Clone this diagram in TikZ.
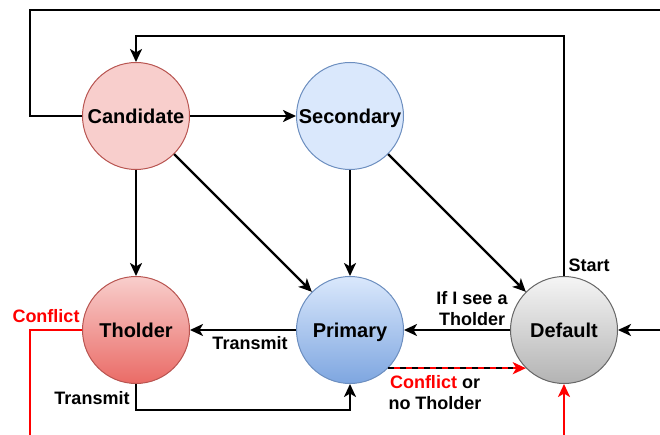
\documentclass[tikz,border=0pt]{standalone}
\usepackage{fontspec}
\setmainfont{Liberation Sans}
\usetikzlibrary{arrows.meta}
\definecolor{redfill}{HTML}{F8CECC}
\definecolor{redfillB}{HTML}{EA6B66}
\definecolor{redline}{HTML}{B85450}
\definecolor{bluefill}{HTML}{DAE8FC}
\definecolor{bluefillB}{HTML}{7EA6E0}
\definecolor{blueline}{HTML}{6C8EBF}
\definecolor{grayfill}{HTML}{F5F5F5}
\definecolor{grayfillB}{HTML}{B3B3B3}
\definecolor{grayline}{HTML}{666666}
\definecolor{conf}{HTML}{FF0000}
\tikzset{
  state/.style={circle, minimum size=107pt, inner sep=0pt, line width=1pt,
    text height=16pt, text depth=0.6pt,
    font=\fontsize{20}{24}\selectfont\bfseries},
  conn/.style={line width=2.4pt, black},
  arr/.style={conn, -{Stealth[length=13pt,width=12pt,inset=3.5pt]}},
  rarr/.style={arr, conf},
  lbl/.style={font=\fontsize{18}{21}\selectfont\bfseries, inner sep=0pt, align=center},
}
\begin{document}
\begin{tikzpicture}[x=1pt,y=-1pt]
\useasboundingbox (0,0) rectangle (660,435);
% states
\node[state, draw=redline, fill=redfill] (cand) at (136,116) {Candidate};
\node[state, draw=blueline, fill=bluefill] (sec) at (350,116) {Secondary};
\node[state, draw=redline, top color=redfill, bottom color=redfillB] (thol) at (136,330) {Tholder};
\node[state, draw=blueline, top color=bluefill, bottom color=bluefillB] (prim) at (350,330) {Primary};
\node[state, draw=grayline, top color=grayfill, bottom color=grayfillB] (def) at (564,330) {Default};
% free ends
\coordinate (tl) at (30,10);
\coordinate (tr) at (661,10);
\coordinate (innertop) at (350,36);
\coordinate (lowbar) at (250,410);
\coordinate (redleft) at (30,436);
\coordinate (redbottom) at (564,436);
\coordinate (rightin) at (661,330);
% connectors
\draw[conn] (cand.west) -| (tl) -- (tr);
\draw[arr] (def.north) |- (innertop) -| (cand.north);
\draw[arr] (cand.east) -- (sec.west);
\draw[arr] (cand.south) -- (thol.north);
\draw[arr] (cand.-45) -- (prim.135);
\draw[arr] (sec.south) -- (prim.north);
\draw[arr] (sec.-45) -- (def.135);
\draw[arr] (prim.west) -- (thol.east);
\draw[arr] (def.west) -- (prim.east);
\draw[arr] (thol.south) |- (lowbar) -| (prim.south);
\draw[arr] (rightin) -- (def.east);
\draw[conn, conf] (thol.west) -| (redleft);
\draw[rarr] (redbottom) -- (def.south);
\draw[arr, conf] (prim.-45) -- (def.-135);
\draw[conn, dash pattern=on 6pt off 6pt, shorten >=13pt] (prim.-45) -- (def.-135);
% labels
\node[lbl] (lstart) at (589,265) {Start};
\node[lbl] (lsee) at (472,309) {If I see a\\Tholder};
\node[lbl] (ltr1) at (250,343) {Transmit};
\node[lbl] (ltr2) at (92,398) {Transmit};
\node[lbl, text=conf] (lconf) at (46,316) {Conflict};
\node[lbl] (lconf2) at (435,393) {\textcolor{conf}{Conflict} or\\no Tholder};
\end{tikzpicture}
\end{document}
